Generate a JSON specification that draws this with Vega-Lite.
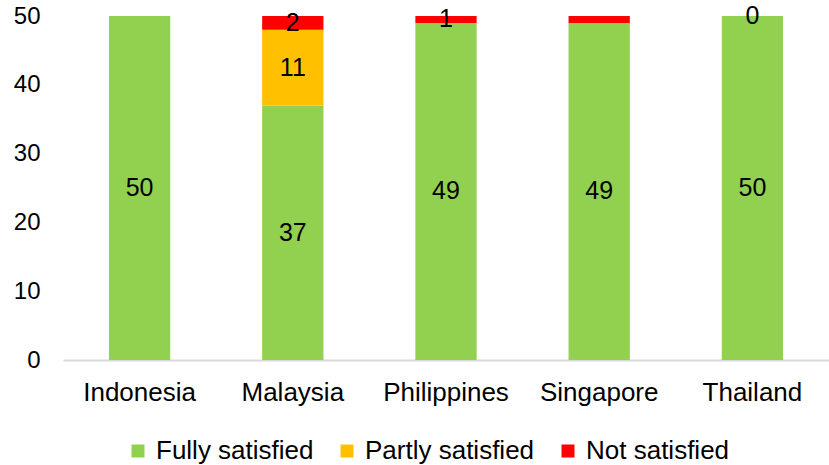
{
  "$schema": "https://vega.github.io/schema/vega-lite/v6.json",
  "autosize": {"type": "none"},
  "width": 766,
  "height": 344,
  "padding": {"left": 63, "top": 16, "right": 0, "bottom": 105},
  "background": "white",
  "config": {
    "view": {"stroke": null},
    "font": "Liberation Sans"
  },
  "data": {
    "values": [
      {"country": "Indonesia", "status": "Fully satisfied", "rank": 1, "value": 50, "label": "50"},
      {"country": "Indonesia", "status": "Partly satisfied", "rank": 2, "value": 0, "label": ""},
      {"country": "Indonesia", "status": "Not satisfied", "rank": 3, "value": 0, "label": ""},
      {"country": "Malaysia", "status": "Fully satisfied", "rank": 1, "value": 37, "label": "37"},
      {"country": "Malaysia", "status": "Partly satisfied", "rank": 2, "value": 11, "label": "11"},
      {"country": "Malaysia", "status": "Not satisfied", "rank": 3, "value": 2, "label": "2"},
      {"country": "Philippines", "status": "Fully satisfied", "rank": 1, "value": 49, "label": "49"},
      {"country": "Philippines", "status": "Partly satisfied", "rank": 2, "value": 0, "label": ""},
      {"country": "Philippines", "status": "Not satisfied", "rank": 3, "value": 1, "label": "1"},
      {"country": "Singapore", "status": "Fully satisfied", "rank": 1, "value": 49, "label": "49"},
      {"country": "Singapore", "status": "Partly satisfied", "rank": 2, "value": 0, "label": ""},
      {"country": "Singapore", "status": "Not satisfied", "rank": 3, "value": 1, "label": ""},
      {"country": "Thailand", "status": "Fully satisfied", "rank": 1, "value": 50, "label": "50"},
      {"country": "Thailand", "status": "Partly satisfied", "rank": 2, "value": 0, "label": ""},
      {"country": "Thailand", "status": "Not satisfied", "rank": 3, "value": 0, "label": "0"}
    ]
  },
  "encoding": {
    "x": {
      "field": "country",
      "type": "nominal",
      "sort": null,
      "scale": {"paddingInner": 0.6, "paddingOuter": 0.3},
      "axis": {
        "title": null,
        "labelAngle": 0,
        "labelFontSize": 26,
        "labelColor": "#000000",
        "labelPadding": 19,
        "ticks": false,
        "domainColor": "#d9d9d9",
        "domainWidth": 2,
        "grid": false
      }
    },
    "y": {
      "field": "value",
      "type": "quantitative",
      "stack": "zero",
      "scale": {"domain": [0, 50], "nice": false},
      "axis": {
        "title": null,
        "values": [0, 10, 20, 30, 40, 50],
        "labelFontSize": 24,
        "labelColor": "#000000",
        "labelPadding": 23,
        "ticks": false,
        "domain": false,
        "grid": false
      }
    },
    "order": {"field": "rank", "type": "quantitative", "sort": "ascending"}
  },
  "layer": [
    {
      "mark": {"type": "bar"},
      "encoding": {
        "color": {
          "field": "status",
          "type": "nominal",
          "sort": ["Fully satisfied", "Partly satisfied", "Not satisfied"],
          "scale": {
            "domain": ["Fully satisfied", "Partly satisfied", "Not satisfied"],
            "range": ["#92D050", "#FFC000", "#FF0000"]
          },
          "legend": {
            "title": null,
            "orient": "none",
            "legendX": 62,
            "legendY": 422,
            "direction": "horizontal",
            "gridAlign": "none",
            "symbolType": "square",
            "symbolSize": 169,
            "symbolStrokeWidth": 0,
            "symbolOpacity": 1,
            "labelFontSize": 26,
            "labelColor": "#000000",
            "labelOffset": 5,
            "columnPadding": 20,
            "labelLimit": 400
          }
        }
      }
    },
    {
      "mark": {"type": "text", "fontSize": 25, "color": "#000000", "baseline": "middle"},
      "encoding": {
        "y": {"field": "value", "type": "quantitative", "stack": "zero", "bandPosition": 0.5},
        "detail": {"field": "status", "type": "nominal"},
        "text": {"field": "label"}
      }
    }
  ]
}
